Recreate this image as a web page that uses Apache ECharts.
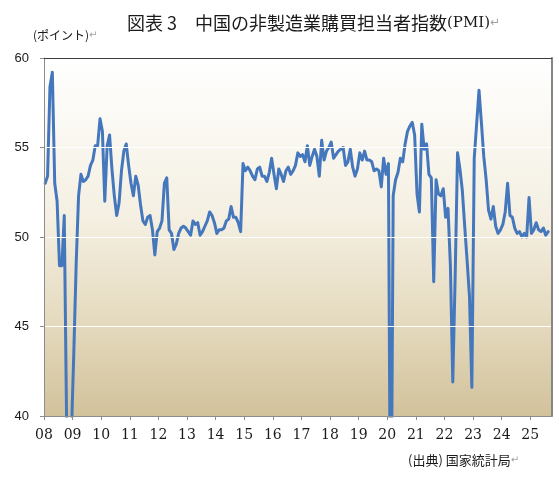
<!DOCTYPE html>
<html>
<head>
<meta charset="utf-8">
<script src="https://cdn.jsdelivr.net/npm/echarts@6/dist/echarts.min.js"></script>
<style>
html, body { margin: 0; padding: 0; background: #fff; }
#Chart { width: 559px; height: 482px; }
</style>
</head>
<body>
<div id="Chart"></div>
<script>
// monthly index values, Jan..Dec of each year
var pmi2008 = [53.0, 53.4, 58.4, 59.2, 53.0, 52.0, 48.4, 48.4, 51.2, 39.5, 36.0, 39.0];
var pmi2009 = [43.5, 48.5, 52.3, 53.5, 53.1, 53.2, 53.4, 54.0, 54.3, 55.1, 55.1, 56.6];
var pmi2010 = [55.9, 52.0, 55.1, 55.7, 53.8, 52.3, 51.2, 51.9, 53.7, 54.8, 55.2, 54.0];
var pmi2011 = [53.0, 52.3, 53.4, 52.9, 51.8, 50.9, 50.7, 51.1, 51.2, 50.4, 49.0, 50.3];
var pmi2012 = [50.5, 50.9, 53.0, 53.3, 50.4, 50.2, 49.3, 49.6, 50.2, 50.5, 50.6, 50.5];
var pmi2013 = [50.3, 50.1, 50.9, 50.7, 50.8, 50.1, 50.3, 50.6, 50.9, 51.4, 51.2, 50.8];
var pmi2014 = [50.2, 50.4, 50.4, 50.5, 50.9, 51.0, 51.7, 51.1, 51.1, 50.8, 50.3, 54.1];
var pmi2015 = [53.7, 53.9, 53.7, 53.4, 53.2, 53.8, 53.9, 53.4, 53.4, 53.1, 53.6, 54.4];
var pmi2016 = [53.5, 52.7, 53.8, 53.5, 53.1, 53.7, 53.9, 53.5, 53.7, 54.0, 54.7, 54.5];
var pmi2017 = [54.6, 54.2, 55.1, 54.0, 54.5, 54.9, 54.5, 53.4, 55.4, 54.3, 54.8, 55.0];
var pmi2018 = [55.3, 54.4, 54.6, 54.8, 54.9, 55.0, 54.0, 54.2, 54.9, 53.9, 53.4, 53.8];
var pmi2019 = [54.7, 54.3, 54.8, 54.3, 54.3, 54.2, 53.7, 53.8, 53.7, 52.8, 54.4, 53.5];
var pmi2020 = [54.1, 29.6, 52.3, 53.2, 53.6, 54.4, 54.2, 55.2, 55.9, 56.2, 56.4, 55.7];
var pmi2021 = [52.4, 51.4, 56.3, 54.9, 55.2, 53.5, 53.3, 47.5, 53.2, 52.4, 52.3, 52.7];
var pmi2022 = [51.1, 51.6, 48.4, 41.9, 47.8, 54.7, 53.8, 52.6, 50.6, 48.7, 46.7, 41.6];
var pmi2023 = [54.4, 56.3, 58.2, 56.4, 54.5, 53.2, 51.5, 51.0, 51.7, 50.6, 50.2, 50.4];
var pmi2024 = [50.7, 51.4, 53.0, 51.2, 51.1, 50.5, 50.2, 50.3, 50.0, 50.2, 50.0, 52.2];
var pmi2025 = [50.2, 50.4, 50.8, 50.4, 50.3, 50.5, 50.1, 50.3];

var years = [2008, 2009, 2010, 2011, 2012, 2013, 2014, 2015, 2016,
             2017, 2018, 2019, 2020, 2021, 2022, 2023, 2024, 2025];
var byYear = [pmi2008, pmi2009, pmi2010, pmi2011, pmi2012, pmi2013, pmi2014, pmi2015, pmi2016,
              pmi2017, pmi2018, pmi2019, pmi2020, pmi2021, pmi2022, pmi2023, pmi2024, pmi2025];

// each month sits in the middle of its slot on the year axis
var lineData = [];
years.forEach(function (y, i) {
  byYear[i].forEach(function (v, m) {
    lineData.push([y + (m + 0.5) / 12, v]);
  });
});

var dom = document.getElementById('Chart');
var myChart = echarts.init(dom, null, { renderer: 'canvas' });

var option = {
  animation: false,
  grid: {
    left: 44,
    right: 7.3,
    top: 58,
    bottom: 66,
    show: true,
    borderWidth: 0,
    outerBoundsMode: 'none',
    backgroundColor: new echarts.graphic.LinearGradient(0, 0, 0, 1, [
      { offset: 0, color: '#ffffff' },
      { offset: 0.45, color: '#f4efe1' },
      { offset: 0.75, color: '#e4d9bd' },
      { offset: 1, color: '#d2c29b' }
    ])
  },
  xAxis: [
    {
      type: 'value',
      min: 2008,
      max: 2025.75,
      position: 'bottom',
      z: 3,
      axisLine: { show: true, lineStyle: { color: '#8c8c8c', width: 1 } },
      axisTick: { show: true, length: 4, customValues: years, lineStyle: { color: '#8c8c8c' } },
      axisLabel: {
        customValues: years,
        margin: 12,
        color: '#1a1a1a',
        fontFamily: 'DejaVu Serif',
        fontSize: 14,
        formatter: function (v) { return String(v).slice(2); }
      },
      splitLine: { show: false }
    },
    {
      type: 'value',
      min: 2008,
      max: 2025.75,
      position: 'top',
      z: 3,
      axisLine: { show: true, lineStyle: { color: '#3c3c3c', width: 1 } },
      axisTick: { show: false },
      axisLabel: { show: false },
      splitLine: { show: false }
    }
  ],
  yAxis: [
    {
      type: 'value',
      min: 40,
      max: 60,
      interval: 5,
      z: 3,
      axisLine: { show: true, lineStyle: { color: '#8c8c8c' } },
      axisTick: { show: true, length: 4, lineStyle: { color: '#8c8c8c' } },
      axisLabel: {
        margin: 15,
        color: '#1a1a1a',
        fontFamily: 'Liberation Sans',
        fontSize: 13
      },
      splitLine: { show: true, lineStyle: { color: '#ffffff', width: 1 } }
    },
    {
      type: 'value',
      min: 40,
      max: 60,
      interval: 5,
      position: 'right',
      z: 3,
      axisLine: { show: true, lineStyle: { color: '#868686', width: 2 } },
      axisTick: { show: false },
      axisLabel: { show: false },
      splitLine: { show: false }
    }
  ],
  graphic: [
    {
      type: 'text',
      x: 127,
      y: 23,
      style: {
        text: '{t|図表 3　中国の非製造業購買担当者指数}{s|(PMI)}{r|↵}',
        verticalAlign: 'middle',
        rich: {
          t: { fontFamily: 'Noto Sans CJK JP', fontSize: 18, fill: '#1a1a1a' },
          s: { fontFamily: 'DejaVu Serif', fontSize: 15, fill: '#1a1a1a' },
          r: { fontFamily: 'DejaVu Sans', fontSize: 12, fill: '#a0a0a0' }
        }
      }
    },
    {
      type: 'text',
      x: 33,
      y: 35,
      style: {
        text: '{t|(ポイント)}{r|↵}',
        verticalAlign: 'middle',
        rich: {
          t: { fontFamily: 'Noto Sans CJK JP', fontSize: 12, fill: '#1a1a1a' },
          r: { fontFamily: 'DejaVu Sans', fontSize: 10, fill: '#a0a0a0' }
        }
      }
    },
    {
      type: 'text',
      x: 408,
      y: 460,
      style: {
        text: '{t|(出典) 国家統計局}{r|↵}',
        verticalAlign: 'middle',
        rich: {
          t: { fontFamily: 'Noto Sans CJK JP', fontSize: 13, fill: '#1a1a1a' },
          r: { fontFamily: 'DejaVu Sans', fontSize: 10, fill: '#a0a0a0' }
        }
      }
    }
  ],
  series: [
    {
      name: '非製造業PMI',
      type: 'line',
      xAxisIndex: 0,
      yAxisIndex: 0,
      showSymbol: false,
      clip: true,
      z: 2,
      lineStyle: { color: '#4577bd', width: 3, cap: 'round', join: 'round' },
      data: lineData
    }
  ]
};

if (option && typeof option === 'object') {
  myChart.setOption(option);
}

window.addEventListener('resize', myChart.resize);
</script>
</body>
</html>
